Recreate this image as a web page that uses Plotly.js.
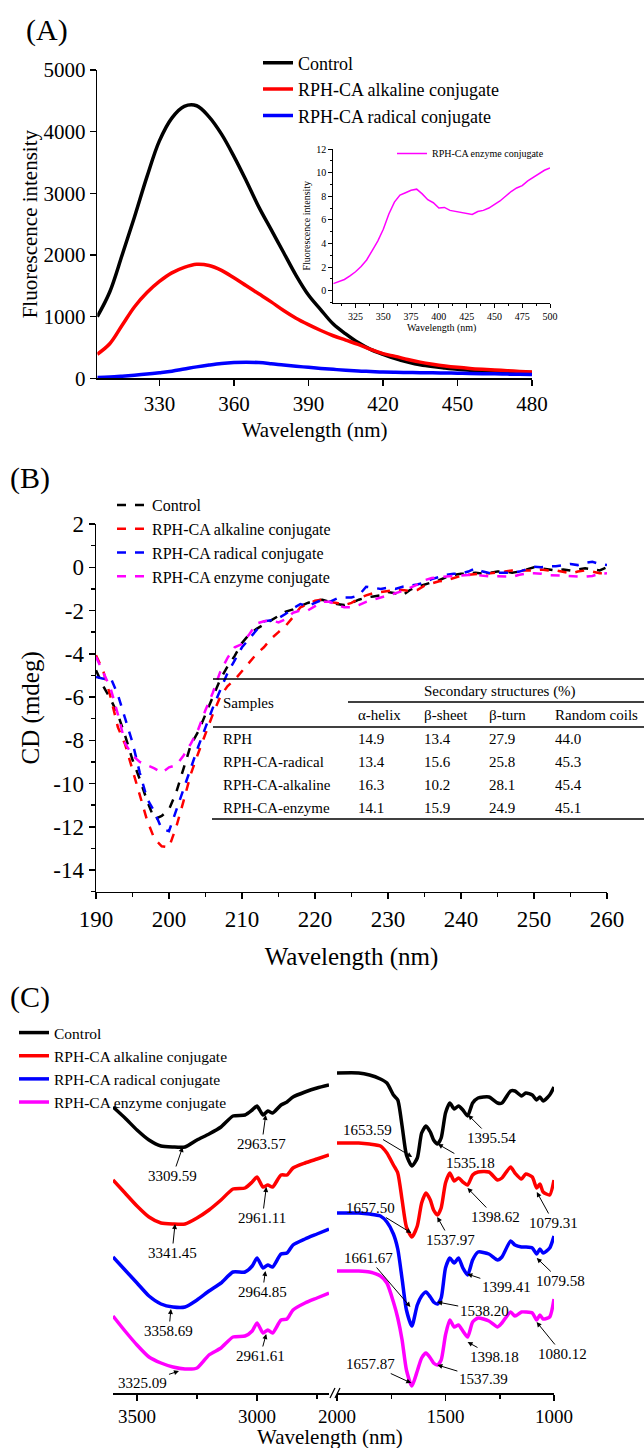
<!DOCTYPE html>
<html><head><meta charset="utf-8">
<script src="https://cdn.plot.ly/plotly-3.0.1.min.js"></script>
<style>html,body{margin:0;padding:0;background:#fff}</style>
</head><body><div id="chart" style="width:644px;height:1448px"></div>
<script>
// ---------- Panel A: fluorescence ----------
const aWavelength = [305,310,315,320,325,330,335,340,345,350,355,360,365,370,375,380,385,390,395,400,405,410,415,420,425,430,435,440,445,450,455,460,465,470,475,480];
const aControl  = [1000,1400,2000,2620,3270,3850,4220,4410,4420,4240,3960,3600,3200,2780,2410,2040,1670,1350,1110,880,720,580,470,390,320,265,220,190,168,148,132,120,112,105,100,96];
const aAlkaline = [390,560,860,1160,1390,1570,1710,1800,1850,1830,1750,1630,1500,1370,1240,1100,975,870,775,690,620,550,470,400,355,305,262,228,200,178,160,146,134,124,112,102];
const aRadical  = [15,22,35,50,68,90,115,150,185,215,240,255,260,255,237,215,195,178,160,145,130,118,110,102,98,95,92,90,86,82,78,75,72,68,64,60];
// inset
const insetWavelength = [305,310,315,320,325,330,335,340,345,350,355,360,365,370,375,380,385,390,395,400,405,410,415,420,425,430,435,440,445,450,455,460,465,470,475,480,485,490,495,500];
const insetEnzyme = [0.6,0.8,0.95,1.25,1.6,2.05,2.6,3.4,4.2,5.2,6.5,7.5,8.1,8.3,8.5,8.6,8.2,7.7,7.45,7.0,7.05,6.8,6.7,6.6,6.5,6.45,6.7,6.8,7.0,7.3,7.6,8.0,8.4,8.7,8.9,9.3,9.6,9.9,10.2,10.4];

// ---------- Panel B: CD ----------
const bWavelength = [190,191,192,193,194,195,196,197,198,199,200,201,202,203,204,205,206,207,208,209,210,211,212,213,214,215,216,217,218,219,220,221,222,223,224,225,226,227,228,229,230,231,232,233,234,235,236,237,238,239,240,241,242,243,244,245,246,247,248,249,250,251,252,253,254,255,256,257,258,259,260];
const bControl = [-4.76,-5.5,-6.1,-6.8,-7.8,-8.9,-9.8,-10.8,-11.65,-11.5,-11.2,-10.4,-9.3,-8.2,-7.6,-6.8,-6.0,-5.2,-4.6,-4.1,-3.5,-3.1,-2.85,-2.65,-2.45,-2.25,-2.05,-1.95,-1.8,-1.65,-1.55,-1.5,-1.6,-1.7,-1.75,-1.65,-1.5,-1.4,-1.35,-1.3,-1.15,-1.2,-1.3,-1.05,-0.9,-0.8,-0.7,-0.6,-0.45,-0.35,-0.3,-0.3,-0.25,-0.3,-0.25,-0.2,-0.2,-0.25,-0.2,-0.1,0.0,-0.05,-0.1,-0.15,-0.1,-0.15,-0.1,-0.05,-0.1,-0.15,0.0];
const bAlkaline = [-4.07,-4.8,-6.0,-7.4,-8.2,-9.4,-10.5,-11.7,-12.55,-12.9,-12.95,-12.0,-10.8,-9.55,-8.6,-7.7,-6.8,-6.0,-5.5,-5.2,-4.8,-4.4,-4.0,-3.7,-3.3,-3.0,-2.7,-2.3,-1.85,-1.7,-1.55,-1.5,-1.6,-1.65,-1.75,-1.65,-1.45,-1.3,-1.2,-1.15,-1.1,-1.05,-1.05,-1.1,-1.05,-0.85,-0.75,-0.65,-0.6,-0.5,-0.4,-0.35,-0.3,-0.28,-0.28,-0.25,-0.2,-0.15,-0.15,-0.15,-0.15,-0.1,-0.15,-0.15,-0.2,-0.28,-0.2,-0.15,-0.2,-0.28,-0.28];
const bRadical = [-5.07,-5.15,-5.1,-5.9,-7.0,-8.1,-9.5,-10.7,-11.3,-12.1,-12.2,-11.2,-10.2,-9.25,-8.3,-7.4,-6.5,-5.7,-4.9,-4.3,-3.7,-3.3,-2.9,-2.5,-2.45,-2.35,-2.15,-1.9,-1.7,-1.8,-1.65,-1.5,-1.6,-1.45,-1.4,-1.4,-1.3,-0.9,-0.95,-1.0,-0.95,-1.0,-0.9,-0.85,-0.8,-0.7,-0.55,-0.45,-0.35,-0.3,-0.28,-0.2,-0.05,-0.2,-0.28,-0.25,-0.25,-0.25,-0.2,-0.1,0.02,0.0,0.05,0.05,0.1,0.15,0.1,0.2,0.25,0.15,0.1];
const bEnzyme = [-4.14,-4.9,-5.6,-6.8,-8.15,-8.7,-9.0,-9.15,-9.3,-9.5,-9.25,-9.15,-8.7,-8.15,-7.5,-6.6,-5.8,-4.85,-4.2,-3.7,-3.55,-3.1,-2.6,-2.5,-2.45,-2.55,-2.4,-2.1,-2.0,-2.0,-1.8,-1.6,-1.6,-1.75,-1.85,-1.85,-1.75,-1.6,-1.5,-1.4,-1.3,-1.2,-1.1,-0.95,-0.8,-0.6,-0.5,-0.45,-0.42,-0.4,-0.38,-0.36,-0.36,-0.4,-0.42,-0.42,-0.44,-0.44,-0.35,-0.28,-0.28,-0.3,-0.36,-0.38,-0.41,-0.41,-0.43,-0.44,-0.4,-0.3,-0.28];
const bTickVals = [-14,-12,-10,-8,-6,-4,-2,0,2];
const bTickText = ['-14','-12','-10','-8','-6','-4','-2','0','2'];
// table
const tableSamples = ['RPH','RPH-CA-radical','RPH-CA-alkaline','RPH-CA-enzyme'];
const tableColumns = ['\u03b1-helix','\u03b2-sheet','\u03b2-turn','Random coils'];
const alphaHelix  = [14.9,13.4,16.3,14.1];
const betaSheet   = [13.4,15.6,10.2,15.9];
const betaTurn    = [27.9,25.8,28.1,24.9];
const randomCoils = [44.0,45.3,45.4,45.1];

// ---------- Panel C: FTIR (relative transmittance, offset curves) ----------
const cWaveLeft = [3600,3550,3500,3450,3400,3350,3300,3250,3200,3150,3100,3050,3020,3000,2975,2955,2935,2900,2875,2850,2800,2750,2700];
const cControlL  = [286,275,263,253,247,246,246,253,259,266,277,278,283,287,278,282,280,288,291,296,301,305,308];
const cAlkalineL = [213,200,187,176,170,169,169,175,183,193,204,205,211,216,206,208,206,218,218,225,230,234,238];
const cRadicalL  = [136,123,110,97,89,86,86,93,102,110,121,121,127,135,125,128,126,139,140,148,154,159,164];
const cEnzymeL   = [77,62,48,36,30,26,24,25,38,45,56,57,62,70,60,63,60,73,74,83,90,95,100];
const cWaveRight = [2000,1900,1850,1800,1770,1740,1720,1700,1680,1655,1630,1610,1590,1570,1555,1537,1520,1500,1480,1460,1440,1420,1398,1375,1350,1300,1260,1240,1200,1180,1150,1130,1100,1080,1065,1050,1020,1000];
const cControlR  = [320,320,318,314,310,298,293,267,238,227,235,260,267,261,253,249,255,280,290,284,287,283,277,290,295,296,290,290,302,302,297,300,298,293,296,292,298,306];
const cAlkalineR = [250,250,249,247,240,228,220,193,166,156,167,190,200,193,183,178,185,210,220,212,215,211,208,218,221,221,213,215,226,220,214,219,216,205,209,201,198,213];
const cRadicalR  = [180,180,179,177,171,159,144,114,83,67,88,97,101,96,91,89,95,125,135,130,135,125,118,133,141,139,133,136,152,148,146,146,145,139,144,140,145,157];
const cEnzymeR   = [122,122,121,117,110,91,75,53,23,7,22,35,40,35,30,28,33,58,73,66,68,62,56,71,75,72,66,70,81,77,81,81,80,73,78,74,76,94];
// peak labels
const peaksLeft  = [3309.59,2963.57,3341.45,2961.11,3358.69,2964.85,3325.09,2961.61];
const peaksLeftY = [246,278,169,206,84,122,22,59];
const peaksRight = [1653.59,1535.18,1395.54,1657.50,1537.97,1398.62,1079.31,1661.67,1538.20,1399.41,1079.58,1657.87,1537.39,1398.18,1080.12];
const peaksRightY= [236,249,278,160,176,205,201,86,91,119,135,10,28,51,71];
// label offsets (px) – styling
const offLeft  = [[-10,29],[-4,29],[-3,29],[-4,31],[-2,22],[-3,21],[-36,12],[-6,22]];
const offRight = [[-45,-27],[33,19],[23,23],[-41,-25],[13,23],[28,29],[17,31],[-42,-49],[47,9],[39,13],[24,23],[-41,-19],[46,14],[27,15],[26,32]];

const W=644,H=1448;
const PX=v=>v/W, PY=v=>1-v/H;
const FONT='Liberation Serif, Times New Roman, serif';
const BLACK='#000000', RED='#ff0000', BLUE='#0000ff', MAG='#ff00ff';

const traces=[];
// A
traces.push({x:aWavelength,y:aControl,xaxis:'x',yaxis:'y',mode:'lines',name:'Control',line:{color:BLACK,width:3.5,shape:'spline'},legend:'legend'});
traces.push({x:aWavelength,y:aAlkaline,xaxis:'x',yaxis:'y',mode:'lines',name:'RPH-CA alkaline conjugate',line:{color:RED,width:3.5,shape:'spline'},legend:'legend'});
traces.push({x:aWavelength,y:aRadical,xaxis:'x',yaxis:'y',mode:'lines',name:'RPH-CA radical conjugate',line:{color:BLUE,width:3.5,shape:'spline'},legend:'legend'});
// inset
traces.push({x:insetWavelength,y:insetEnzyme,xaxis:'x2',yaxis:'y2',mode:'lines',name:'RPH-CA enzyme conjugate',line:{color:MAG,width:1.5},legend:'legend2'});
// B
const bSeries=[['Control',bControl,BLACK],['RPH-CA alkaline conjugate',bAlkaline,RED],['RPH-CA radical conjugate',bRadical,BLUE],['RPH-CA enzyme conjugate',bEnzyme,MAG]];
bSeries.forEach(s=>traces.push({x:bWavelength,y:s[1],xaxis:'x3',yaxis:'y3',mode:'lines',name:s[0],line:{color:s[2],width:2.5,dash:'dash'},legend:'legend3'}));
// C
const cSeries=[['Control',cControlL,cControlR,BLACK],['RPH-CA alkaline conjugate',cAlkalineL,cAlkalineR,RED],['RPH-CA radical conjugate',cRadicalL,cRadicalR,BLUE],['RPH-CA enzyme conjugate',cEnzymeL,cEnzymeR,MAG]];
cSeries.forEach(s=>{
  traces.push({x:cWaveLeft,y:s[1],xaxis:'x4',yaxis:'y4',mode:'lines',name:s[0],line:{color:s[3],width:3.5,shape:'spline',smoothing:0.6},legend:'legend4'});
  traces.push({x:cWaveRight,y:s[2],xaxis:'x5',yaxis:'y4',mode:'lines',name:s[0],showlegend:false,line:{color:s[3],width:3.5,shape:'spline',smoothing:0.6}});
});

const axBase={showgrid:false,zeroline:false,showline:true,linecolor:'#000',linewidth:1.5,ticks:'outside',ticklen:6,tickwidth:1.5,tickcolor:'#000',color:'#000'};

const annotations=[];
const ann=(t,x,y,size,opt)=>annotations.push(Object.assign({text:t,x:PX(x),y:PY(y),xref:'paper',yref:'paper',showarrow:false,font:{family:FONT,size:size,color:'#000'},xanchor:'left',yanchor:'middle'},opt||{}));
ann('(A)',24,30,30);
ann('(B)',8,478,30);
ann('(C)',8,997,30);
// table
ann('Secondary structures (%)',500,691,15,{xanchor:'center'});
ann('Samples',221,703,15);
const colX=[356,422,487,553];
tableColumns.forEach((c,i)=>ann(c,colX[i],715,15));
const rowY=[739,762,785,808];
const tableVals=[alphaHelix,betaSheet,betaTurn,randomCoils];
tableSamples.forEach((s,r)=>{
  ann(s,221,rowY[r],15);
  tableVals.forEach((arr,c)=>ann(arr[r].toFixed(1),colX[c],rowY[r],15));
});
// C title
ann('Wavelength (nm)',330,1437,21,{xanchor:'center'});
// peak labels
const pk=(t,x,y,xr,o)=>annotations.push({text:t,x:x,y:y,xref:xr,yref:'y4',showarrow:true,arrowhead:2,arrowsize:1,arrowwidth:1,arrowcolor:'#000',ax:o[0],ay:o[1],standoff:0,font:{family:FONT,size:15,color:'#000'}});
peaksLeft.forEach((v,i)=>pk(v.toFixed(2),v,peaksLeftY[i],'x4',offLeft[i]));
peaksRight.forEach((v,i)=>pk(v.toFixed(2),v,peaksRightY[i],'x5',offRight[i]));

const shapes=[];
const hl=(x0,x1,y,w)=>shapes.push({type:'line',xref:'paper',yref:'paper',x0:PX(x0),x1:PX(x1),y0:PY(y),y1:PY(y),line:{color:'#000',width:w||1.5}});
hl(213,644,679); hl(348,644,702); hl(213,644,727); hl(212,644,819);
// axis break marks
const sl=(x0,y0,x1,y1)=>shapes.push({type:'line',xref:'paper',yref:'paper',x0:PX(x0),y0:PY(y0),x1:PX(x1),y1:PY(y1),line:{color:'#000',width:1.2}});
sl(330,1398,335,1388); sl(335,1398,340,1388);

const layout={
  width:W,height:H,margin:{l:0,r:0,t:0,b:0},paper_bgcolor:'#fff',plot_bgcolor:'rgba(0,0,0,0)',
  font:{family:FONT,color:'#000'},
  xaxis:Object.assign({},axBase,{domain:[PX(97.3),PX(532)],anchor:'y',range:[305,480],tickvals:[330,360,390,420,450,480],tickfont:{size:21},title:{text:'Wavelength (nm)',font:{size:21},standoff:7}}),
  yaxis:Object.assign({},axBase,{domain:[PY(378.3),PY(70)],anchor:'x',range:[0,5000],tickvals:[0,1000,2000,3000,4000,5000],tickfont:{size:21},title:{text:'Fluorescence intensity',font:{size:21},standoff:0}}),
  xaxis2:Object.assign({},axBase,{domain:[PX(333.3),PX(550)],anchor:'y2',range:[305,500],tickvals:[325,350,375,400,425,450,475,500],ticklen:4,linewidth:1,tickwidth:1,minor:{dtick:12.5,tick0:0,ticks:'outside',ticklen:2.5,tickcolor:'#000'},tickfont:{size:10},title:{text:'Wavelength (nm)',font:{size:10},standoff:3}}),
  yaxis2:Object.assign({},axBase,{domain:[PY(302.5),PY(149)],anchor:'x2',range:[-1,12],tickvals:[0,2,4,6,8,10,12],ticklen:4,linewidth:1,tickwidth:1,minor:{dtick:1,tick0:0,ticks:'outside',ticklen:2.5,tickcolor:'#000'},tickfont:{size:10},title:{text:'Fluorescence intensity',font:{size:10},standoff:3}}),
  xaxis3:Object.assign({},axBase,{domain:[PX(96),PX(607)],anchor:'y3',range:[190,260],tickvals:[190,200,210,220,230,240,250,260],minor:{dtick:5,tick0:190,ticks:'outside',ticklen:4,tickcolor:'#000'},tickfont:{size:23},title:{text:'Wavelength (nm)',font:{size:25},standoff:16}}),
  yaxis3:Object.assign({},axBase,{domain:[PY(891.7),PY(524)],anchor:'x3',range:[-15,2],tickmode:'array',tickvals:bTickVals,ticktext:bTickText,minor:{dtick:1,tick0:0,ticks:'outside',ticklen:4,tickcolor:'#000'},tickfont:{size:23},title:{text:'CD (mdeg)',font:{size:25},standoff:6}}),
  xaxis4:Object.assign({},axBase,{domain:[PX(113),PX(329)],anchor:'y4',range:[3600,2700],tickvals:[3500,3000],minor:{tickvals:[3250,2750],ticks:'outside',ticklen:4,tickcolor:'#000'},tickfont:{size:19}}),
  xaxis5:Object.assign({},axBase,{domain:[PX(337),PX(554)],anchor:'y4',range:[2000,1000],tickvals:[2000,1500,1000],minor:{tickvals:[1750,1250],ticks:'outside',ticklen:4,tickcolor:'#000'},tickfont:{size:19}}),
  yaxis4:{domain:[PY(1393),PY(1053)],anchor:'x4',range:[0,340],visible:false,showgrid:false,zeroline:false},
  legend:{x:PX(258),y:PY(44.5),xanchor:'left',yanchor:'top',bgcolor:'rgba(0,0,0,0)',font:{size:18,family:FONT},borderwidth:0},
  legend2:{x:PX(392),y:PY(139),xanchor:'left',yanchor:'top',bgcolor:'rgba(0,0,0,0)',font:{size:10,family:FONT},borderwidth:0},
  legend3:{x:PX(112),y:PY(488),xanchor:'left',yanchor:'top',bgcolor:'rgba(0,0,0,0)',font:{size:16,family:FONT},borderwidth:0},
  legend4:{x:PX(14),y:PY(1016),xanchor:'left',yanchor:'top',bgcolor:'rgba(0,0,0,0)',font:{size:15.5,family:FONT},borderwidth:0},
  annotations:annotations,shapes:shapes,showlegend:true
};
Plotly.newPlot('chart',traces,layout,{displayModeBar:false,staticPlot:true});
</script></body></html>
